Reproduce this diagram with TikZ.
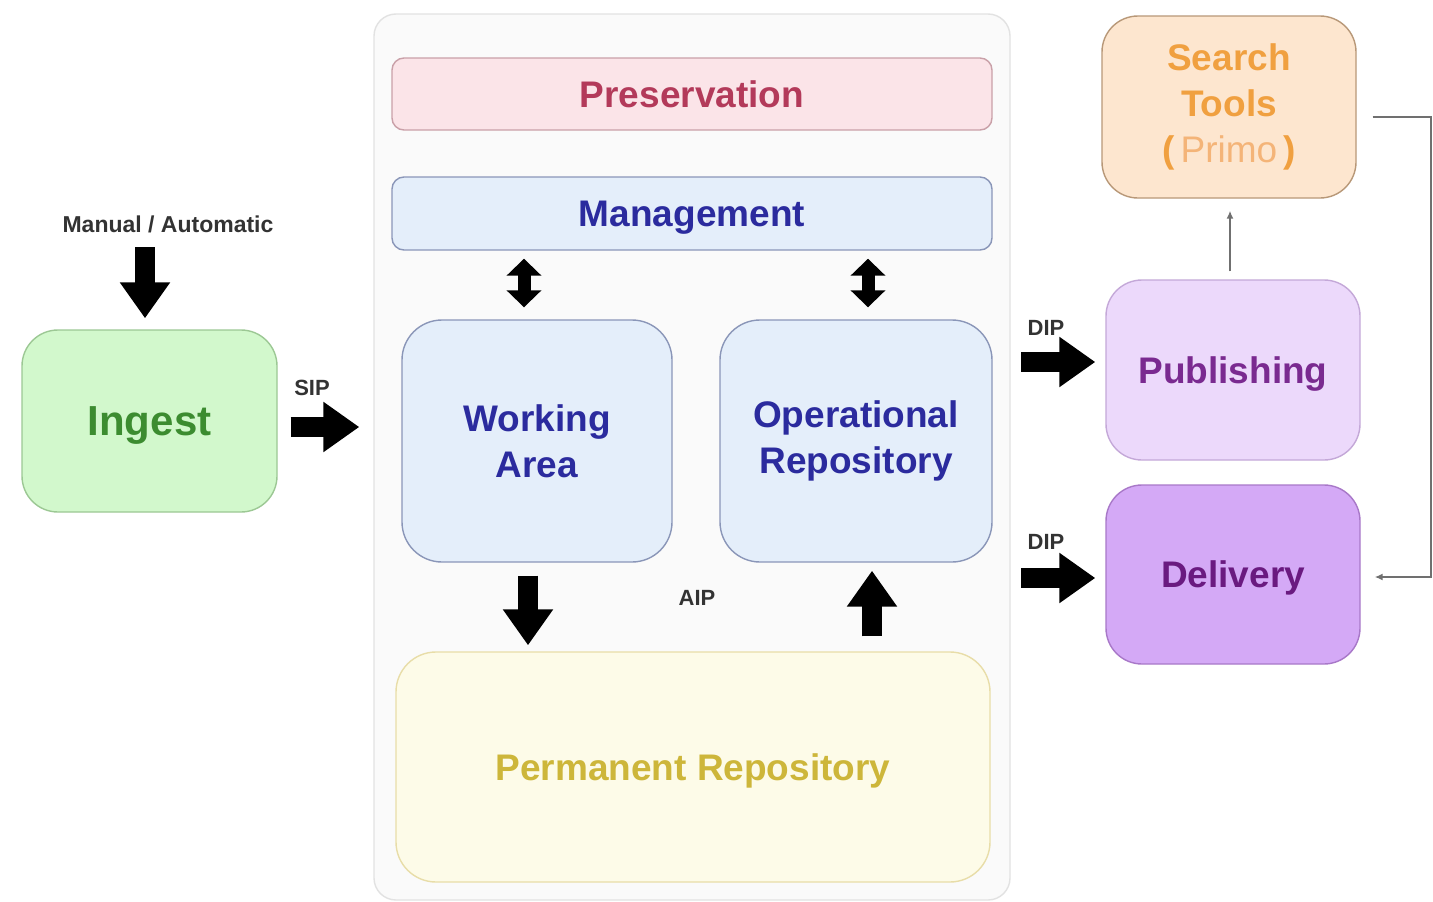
\documentclass[tikz,border=0pt]{standalone}
\usepackage{fontspec}
\setmainfont{Liberation Sans}
\usetikzlibrary{arrows.meta,calc}
\definecolor{contF}{HTML}{FAFAFA}\definecolor{contD}{HTML}{E2E2E2}
\definecolor{presF}{HTML}{FBE4E8}\definecolor{presD}{HTML}{C9A0A8}\definecolor{presT}{HTML}{B33A5A}
\definecolor{mgF}{HTML}{E4EEFA}\definecolor{mgD}{HTML}{8A96B8}\definecolor{mgT}{HTML}{2B2B9E}
\definecolor{permF}{HTML}{FDFBE8}\definecolor{permD}{HTML}{E8DDA8}\definecolor{permT}{HTML}{CDB63A}
\definecolor{ingF}{HTML}{D2F8CC}\definecolor{ingD}{HTML}{9CC894}\definecolor{ingT}{HTML}{3C8C30}
\definecolor{srF}{HTML}{FDE6CF}\definecolor{srD}{HTML}{B89878}\definecolor{srT}{HTML}{F0A040}\definecolor{srT2}{HTML}{F4B478}
\definecolor{pubF}{HTML}{ECD9FB}\definecolor{pubD}{HTML}{C4A8D8}\definecolor{pubT}{HTML}{7A2A90}
\definecolor{delF}{HTML}{D4A9F6}\definecolor{delD}{HTML}{A878C8}\definecolor{delT}{HTML}{6A1A80}
\definecolor{lab}{HTML}{333333}\definecolor{thinl}{HTML}{707070}
\tikzset{
  box/.style={rectangle, rounded corners=#1, inner sep=0pt, line width=1.4pt, align=center,
     font=\fontsize{37}{46}\selectfont\bfseries},
  box/.default=36pt,
  one/.style={text depth=0pt},
  lbl/.style={font=\fontsize{22}{26}\selectfont\bfseries, text=lab, inner sep=0pt},
  fat/.style={line width=20pt, -{Triangle[length=36pt,width=48pt]}},
  dbl/.style={line width=13pt, {Triangle[length=17pt,width=34pt]}-{Triangle[length=17pt,width=34pt]}},
  thinarr/.style={line width=1.5pt, draw=thinl, -{Latex[length=8pt,width=7pt]}},
}
\begin{document}
\begin{tikzpicture}[x=1pt,y=-1pt]
\path[fill=white] (0,0) rectangle (1433,902);
\useasboundingbox (0,0) rectangle (1433,902);
% container
\node[box=22pt, fill=contF, draw=contD, minimum width=636pt, minimum height=886pt] (cont) at (692,457) {};
\node[box=12pt, one, fill=presF, draw=presD, text=presT, minimum width=600pt, minimum height=72pt] (pres) at (692,94) {Preservation};
\node[box=12pt, one, fill=mgF, draw=mgD, text=mgT, minimum width=600pt, minimum height=73pt] (mgmt) at (692,213.5) {Management};
\node[box=40pt, fill=mgF, draw=mgD, text=mgT, minimum width=270pt, minimum height=242pt] (work) at (537,441) {Working\\Area};
\node[box=40pt, fill=mgF, draw=mgD, text=mgT, minimum width=272pt, minimum height=242pt] (oper) at (856,441) {Operational\\Repository};
\node[box=40pt, one, fill=permF, draw=permD, text=permT, minimum width=594pt, minimum height=230pt] (perm) at (693,767) {Permanent Repository};
% left
\node[box=36pt, one, fill=ingF, draw=ingD, text=ingT, minimum width=255pt, minimum height=182pt, font=\fontsize{42}{46}\selectfont\bfseries] (ingest) at (149.5,421) {Ingest};
\node[lbl, font=\fontsize{23}{26}\selectfont\bfseries] (manual) at (168,224) {Manual / Automatic};
% right
\node[box=36pt, fill=srF, draw=srD, text=srT, minimum width=254pt, minimum height=182pt] (search) at (1229,107) {Search\\Tools\\(\,{\mdseries\color{srT2}Primo}\,)};
\node[box=36pt, one, fill=pubF, draw=pubD, text=pubT, minimum width=254pt, minimum height=180pt] (pub) at (1233,370) {Publishing};
\node[box=36pt, one, fill=delF, draw=delD, text=delT, minimum width=254pt, minimum height=179pt] (deliv) at (1233,574.5) {Delivery};
% labels
\node[lbl] (sip) at (312,388) {SIP};
\node[lbl] (dip1) at (1046,328) {DIP};
\node[lbl] (dip2) at (1046,542) {DIP};
\node[lbl] (aip) at (697,598) {AIP};
% fat arrows
\draw[fat] ($(ingest.north)+(-4.5,-82)$) -- ($(ingest.north)+(-4.5,-11)$);
\draw[fat] ($(ingest.east)+(13,6)$) -- ($(ingest.east -| cont.west)+(-14,6)$);
\draw[fat] ($(pub.west)+(-84,-8)$) -- ($(pub.west)+(-10,-8)$);
\draw[fat] ($(deliv.west)+(-84,3.5)$) -- ($(deliv.west)+(-10,3.5)$);
\draw[fat] ($(work.south)+(-9,13)$) -- ($(perm.north -| work.south)+(-9,-6)$);
\draw[fat] ($(perm.north -| oper.south)+(16,-15)$) -- ($(oper.south)+(16,8)$);
% double arrows
\draw[dbl] ($(mgmt.south -| work.north)+(-13,8)$) -- ($(work.north)+(-13,-12)$);
\draw[dbl] ($(mgmt.south -| oper.north)+(12,8)$) -- ($(oper.north)+(12,-12)$);
% thin connectors
\draw[thinarr] ($(pub.north)+(-3,-8)$) -- ($(search.south)+(1,12)$);
\coordinate (fbA) at ($(search.east)+(16,10)$);
\coordinate (fbB) at ($(deliv.east)+(14,2.5)$);
\coordinate (fbX) at (1431,0);
\draw[thinarr] (fbA) -- (fbA -| fbX) -- (fbB -| fbX) -- (fbB);
\end{tikzpicture}
\end{document}
